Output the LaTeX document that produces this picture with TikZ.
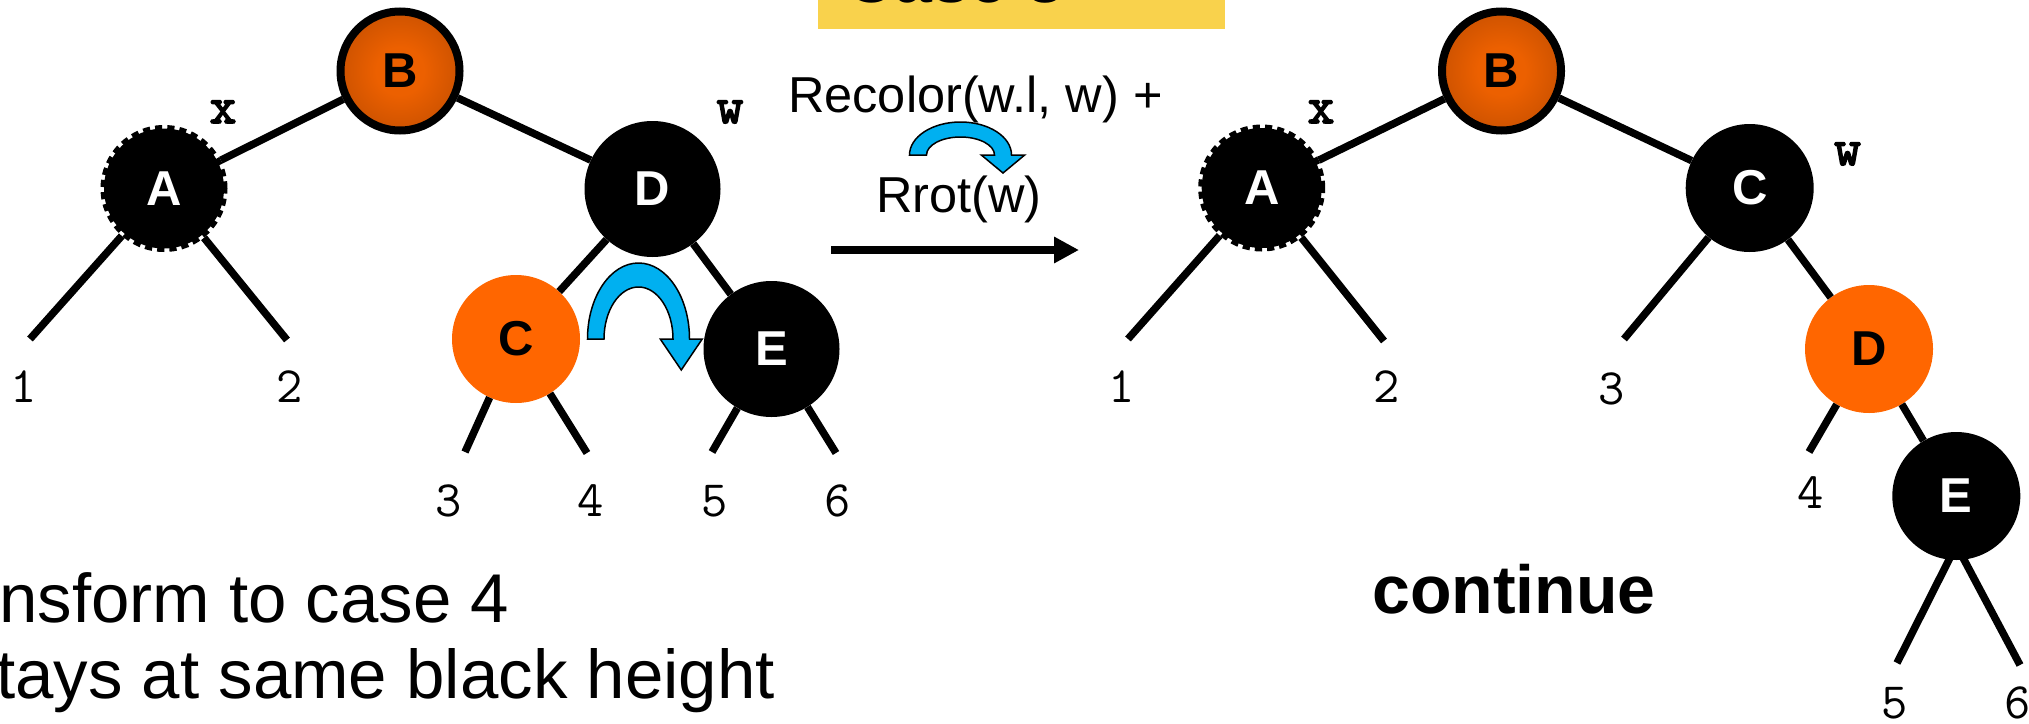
\documentclass[tikz,border=0pt]{standalone}
\usepackage{fontspec}
\usepackage{tikz}
\usetikzlibrary{arrows.meta}

\newfontfamily\slidefont{Liberation Sans}
\newfontfamily\pointerfont[FakeBold = 3]{Latin Modern Mono}

\definecolor{rbred}{RGB}{255,102,0}
\definecolor{glowinner}{RGB}{236,96,0}
\definecolor{glowmid}{RGB}{200,80,0}
\definecolor{glowdark}{RGB}{120,45,0}
\definecolor{glowouter}{RGB}{45,18,0}
\definecolor{turnblue}{RGB}{0,176,240}
\definecolor{titleyellow}{RGB}{249,210,76}

\pgfdeclareradialshading{rootglow}{\pgfpoint{0bp}{0bp}}{%
  color(0bp)=(glowinner); color(10bp)=(glowinner);
  color(28bp)=(glowmid); color(40bp)=(glowdark); color(50bp)=(glowouter)}

% curved rotation arrow: base point, outer radii, inner radii, head half width, head length
\newcommand{\turnarrow}[7]{%
  \path[turn arrow, shift={#1}]
    (-#2,0) arc[start angle=180, end angle=360, x radius=#2, y radius=#3]
    -- ({(#2+#4)/2+#6},0) -- ({(#2+#4)/2},#7) -- ({(#2+#4)/2-#6},0)
    -- (#4,0) arc[start angle=0, end angle=-180, x radius=#4, y radius=#5]
    -- cycle;
}

\tikzset {
  tree edge/.style = {
    draw = black,
    line width = 7.5pt
  },
  % arrow between the two trees
  move arrow/.style = {
    draw = black,
    line width = 7.3pt,
    -{Triangle[length = 25pt, width = 25pt]}
  },
  turn arrow/.style = {
    fill = turnblue,
    draw = black,
    line width = 1.5pt
  }
}
\tikzset {
  tree node/.style = {
    circle,
    inner sep = 0,
    minimum size = 128pt,
    font = \slidefont\bfseries\fontsize{49pt}{49pt}\selectfont
  },
  % black node
  black node/.style = {
    tree node,
    fill = black,
    text = white
  },
  % red node
  red node/.style = {
    tree node,
    fill = rbred,
    text = black
  },
  % red and black at once
  shaded node/.style = {
    tree node,
    minimum size = 119pt,
    draw = black,
    line width = 8pt,
    shade,
    shading = rootglow,
    text = black
  },
  % extra black
  dashed node/.style = {
    black node,
    minimum size = 120pt,
    draw = black,
    line width = 7pt,
    dash pattern = on 7pt off 5pt
  },
  leaf label/.style = {
    anchor = base,
    inner sep = 0,
    font = \ttfamily\fontsize{51pt}{51pt}\selectfont
  },
  pointer/.style = {
    anchor = base,
    inner sep = 0,
    font = \pointerfont\fontsize{52pt}{52pt}\selectfont
  },
  op text/.style = {
    anchor = base,
    inner sep = 0,
    font = \slidefont\fontsize{50.5pt}{50.5pt}\selectfont
  },
  note/.style = {
    anchor = base west,
    inner sep = 0,
    font = \slidefont\fontsize{69pt}{69pt}\selectfont
  },
  verdict/.style = {
    anchor = base,
    inner sep = 0,
    font = \slidefont\bfseries\fontsize{68pt}{68pt}\selectfont
  },
  case title/.style = {
    anchor = base west,
    inner sep = 0,
    font = \slidefont\bfseries\fontsize{68pt}{68pt}\selectfont
  }
}

\begin{document}
\begin{tikzpicture}[x = 1pt, y = -1pt]
    \useasboundingbox (0,0) rectangle (2029,723);
    \clip (0,0) rectangle (2029,723);

    \fill[titleyellow] (818,-40) rectangle (1225,29);
    \node[case title] (case) at (845,2.5) {Case 3};

    \node[shaded node] (old-b) at (400,71) {B};
    \node[dashed node] (old-a) at (164,188.5) {A};
    \node[black node, minimum size = 136pt] (old-d) at (652.5,189) {D};
    \node[red node] (old-c) at (516,339) {C};
    \node[black node, minimum size = 136pt] (old-e) at (771.5,349) {E};
    \node[pointer] (old-x) at (223,123) {x};
    \node[pointer] (old-w) at (730,123) {w};

    \coordinate (old-1) at (30,339);
    \coordinate (old-2) at (287,340);
    \coordinate (old-3) at (465,452);
    \coordinate (old-4) at (587,453);
    \coordinate (old-5) at (712,452);
    \coordinate (old-6) at (836,453);

    \draw[tree edge] (old-b) -- (old-a);
    \draw[tree edge] (old-b) -- (old-d);
    \draw[tree edge] (old-d) -- (old-c);
    \draw[tree edge] (old-d) -- (old-e);
    \draw[tree edge] (old-a) -- (old-1);
    \draw[tree edge] (old-a) -- (old-2);
    \draw[tree edge] (old-c) -- (old-3);
    \draw[tree edge] (old-c) -- (old-4);
    \draw[tree edge] (old-e) -- (old-5);
    \draw[tree edge] (old-e) -- (old-6);

    \node[leaf label] (old-1-num) at (24,402) {1};
    \node[leaf label] (old-2-num) at (290,402) {2};
    \node[leaf label] (old-3-num) at (449,516) {3};
    \node[leaf label] (old-4-num) at (591,516) {4};
    \node[leaf label] (old-5-num) at (715,516) {5};
    \node[leaf label] (old-6-num) at (838,516) {6};

    \turnarrow{(638.5,339)}{51}{76}{34.5}{52}{21}{31}

    \node[op text] (recolor) at (975.5,112) {Recolor(w.l, w) +};
    \node[op text] (rrot) at (959,212) {Rrot(w)};
    \turnarrow{(960.5,155)}{51}{33}{34}{18}{21.7}{18}

    \coordinate (go-from) at (831,250);
    \coordinate (go-to) at (1079,250);
    \draw[move arrow] (go-from) -- (go-to);

    \node[shaded node] (new-b) at (1501.5,71) {B};
    \node[dashed node] (new-a) at (1261.7,188) {A};
    \node[black node] (new-c) at (1749.7,188) {C};
    \node[red node] (new-d) at (1869,349) {D};
    \node[black node] (new-e) at (1956.3,496) {E};
    \node[pointer] (new-x) at (1321,123) {x};
    \node[pointer] (new-w) at (1847.5,165) {w};

    \coordinate (new-1) at (1128,339);
    \coordinate (new-2) at (1384,341);
    \coordinate (new-3) at (1624,339);
    \coordinate (new-4) at (1809,452);
    \coordinate (new-5) at (1897,663);
    \coordinate (new-6) at (2020,665);

    \draw[tree edge] (new-b) -- (new-a);
    \draw[tree edge] (new-b) -- (new-c);
    \draw[tree edge] (new-c) -- (new-d);
    \draw[tree edge] (new-d) -- (new-e);
    \draw[tree edge] (new-a) -- (new-1);
    \draw[tree edge] (new-a) -- (new-2);
    \draw[tree edge] (new-c) -- (new-3);
    \draw[tree edge] (new-d) -- (new-4);
    \draw[tree edge] ([yshift = 15pt]new-e.south) -- (new-5);
    \draw[tree edge] ([yshift = 15pt]new-e.south) -- (new-6);

    \node[leaf label] (new-1-num) at (1122,402) {1};
    \node[leaf label] (new-2-num) at (1387,402) {2};
    \node[leaf label] (new-3-num) at (1612,404) {3};
    \node[leaf label] (new-4-num) at (1811,508) {4};
    \node[leaf label] (new-5-num) at (1895,718) {5};
    \node[leaf label] (new-6-num) at (2018,718) {6};

    \node[note] (transform) at (-1,622) {nsform to case 4};
    \node[note] (stays) at (-4,698) {tays at same black height};
    \node[verdict] (continue) at (1514,613) {continue};

\end{tikzpicture}
\end{document}
